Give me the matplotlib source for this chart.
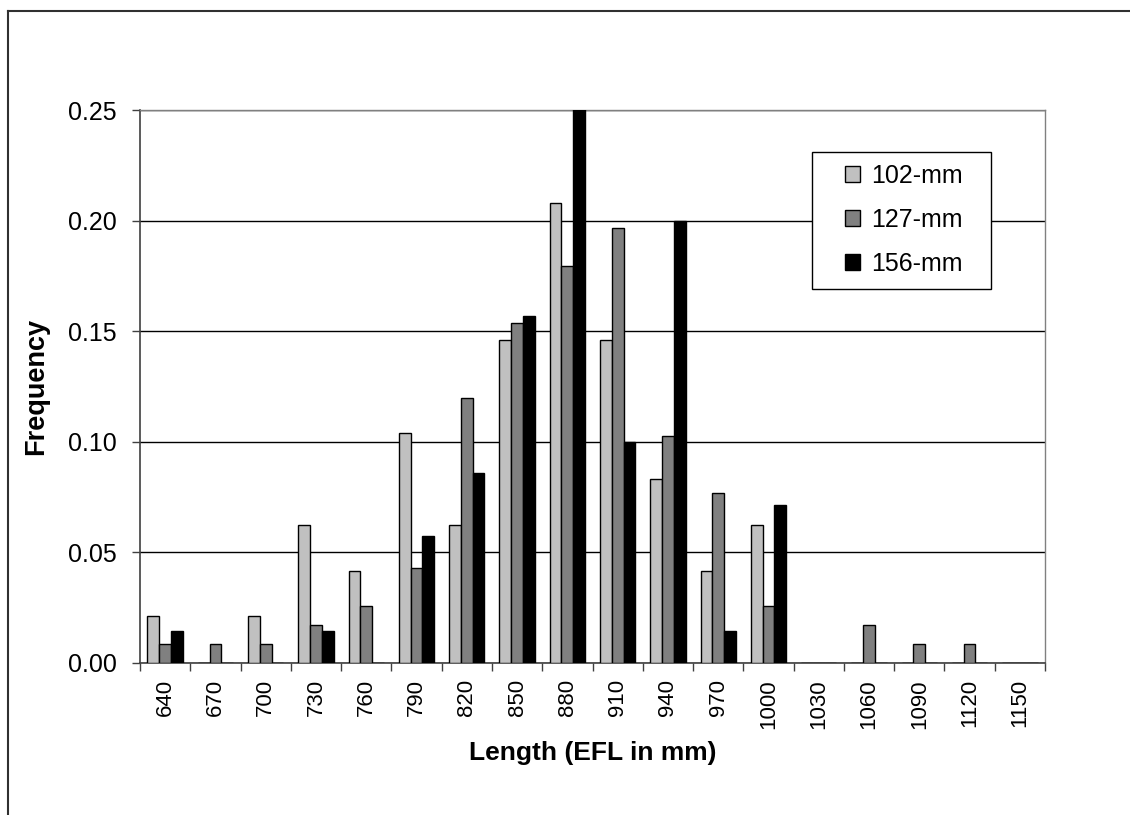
import matplotlib.pyplot as plt
import numpy as np
from matplotlib.lines import Line2D
from matplotlib.patches import Rectangle

# bin centres (mm)
lengths = [640, 670, 700, 730, 760, 790, 820, 850, 880,
           910, 940, 970, 1000, 1030, 1060, 1090, 1120, 1150]

# frequencies
freq_102 = [0.021, 0.0, 0.021, 0.0625, 0.0417, 0.104, 0.0625, 0.146, 0.208,
            0.146, 0.083, 0.0417, 0.0625, 0.0, 0.0, 0.0, 0.0, 0.0]
freq_127 = [0.0085, 0.0085, 0.0085, 0.017, 0.0256, 0.0427, 0.1197, 0.1538, 0.1795,
            0.1966, 0.1026, 0.0769, 0.0256, 0.0, 0.017, 0.0085, 0.0085, 0.0]
freq_156 = [0.0143, 0.0, 0.0, 0.0143, 0.0, 0.0571, 0.0857, 0.157, 0.286,
            0.1, 0.2, 0.0143, 0.0714, 0.0, 0.0, 0.0, 0.0, 0.0]

series_names = ['102-mm', '127-mm', '156-mm']
series_colors = ['#C0C0C0', '#808080', '#000000']

plt.rcParams['font.family'] = ['Liberation Sans', 'DejaVu Sans']

W, H = 1130, 815
fig = plt.figure(figsize=(W / 100, H / 100), dpi=100)
ax = fig.add_axes([140 / W, 1 - 662.7 / H, 905 / W, 552.7 / H])

x = np.arange(len(lengths))
w = 0.234
for i, (vals, name, col) in enumerate(zip([freq_102, freq_127, freq_156],
                                           series_names, series_colors)):
    ax.bar(x + (i - 1) * w, vals, width=w, color=col, edgecolor='black',
           linewidth=1, label=name, zorder=3)

ax.set_xlim(-0.5, len(lengths) - 0.5)
ax.set_ylim(0, 0.25)
ax.set_yticks(np.arange(0, 0.251, 0.05))
ax.set_yticklabels(['%.2f' % v for v in np.arange(0, 0.251, 0.05)])
ax.yaxis.grid(True, color='black', linewidth=1, zorder=0)
ax.set_axisbelow(True)

# category labels centred, tick marks at the boundaries
ax.set_xticks(x)
ax.set_xticklabels([str(v) for v in lengths], rotation=90)
ax.set_xticks(np.arange(-0.5, len(lengths)), minor=True)
ax.tick_params(axis='x', which='major', length=0, pad=12, labelsize=16)
ax.tick_params(axis='x', which='minor', length=6, width=1, color='#404040',
               direction='out')
ax.tick_params(axis='y', length=6, width=1, color='#404040', direction='out',
               pad=11, labelsize=18)

for side in ['left', 'bottom']:
    ax.spines[side].set_color('#404040')
    ax.spines[side].set_linewidth(1.2)
for side in ['top', 'right']:
    ax.spines[side].set_color('#808080')
    ax.spines[side].set_linewidth(1)

ax.set_xlabel('Length (EFL in mm)', fontsize=19, fontweight='bold')
ax.xaxis.set_label_coords(0.5, (662.7 - 753) / 552.7)
ax.xaxis.label.set_verticalalignment('center')
ax.set_ylabel('Frequency', fontsize=19.5, fontweight='bold')
ax.yaxis.set_label_coords((36.5 - 140) / 905, 0.5)
ax.yaxis.label.set_verticalalignment('center')

# legend entries without frame, frame drawn as its own box underneath
ax.add_patch(Rectangle((812 / W, 1 - 289 / H), 179 / W, 137 / H,
                       transform=fig.transFigure, facecolor='white',
                       edgecolor='black', linewidth=1, zorder=4, clip_on=False))
leg = ax.legend(loc='upper left', bbox_to_anchor=(845 / W, 1 - 164 / H),
                bbox_transform=fig.transFigure, borderaxespad=0, borderpad=0,
                fontsize=18, handlelength=0.6, handleheight=0.6,
                handletextpad=0.45, labelspacing=0.8, frameon=False)
leg.set_zorder(6)

# outer chart frame (cropped on the right and bottom)
fig.add_artist(Line2D([8 / W, 8 / W], [0, 1 - 11 / H],
                      transform=fig.transFigure, color='#303030', linewidth=1.5))
fig.add_artist(Line2D([8 / W, 1], [1 - 11 / H, 1 - 11 / H],
                      transform=fig.transFigure, color='#303030', linewidth=1.5))

fig.savefig('out.png', dpi=100)
